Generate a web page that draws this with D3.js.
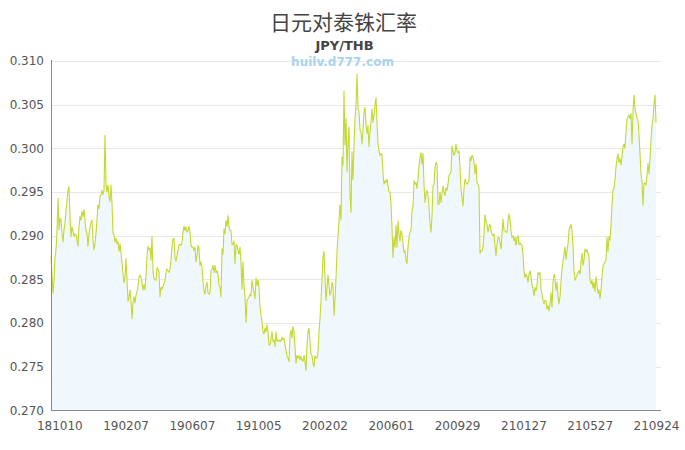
<!DOCTYPE html>
<html>
<head>
<meta charset="utf-8">
<script src="https://cdn.jsdelivr.net/npm/d3@7/dist/d3.min.js"></script>
<style>
  html, body { margin: 0; padding: 0; background: #fff; }
  svg { display: block; }
</style>
</head>
<body>
<svg id="chart" width="685" height="450"></svg>
<script>
// ---- data ----
const titleText = "日元对泰铢汇率";
const subtitleText = "JPY/THB";
const watermarkText = "huilv.d777.com";
const startDate = "180925";
const endDate = "210924";
const tickLabels = ["181010","190207","190607","191005","200202","200601","200929","210127","210527","210924"];
const yTicks = [0.270,0.275,0.280,0.285,0.290,0.295,0.300,0.305,0.310];
const rates = [
0.2876,0.2855,0.2834,0.2850,0.2875,0.2884,0.2905,0.2943,0.2907,0.2920,
0.2918,0.2903,0.2893,0.2907,0.2915,0.2928,0.2940,0.2952,0.2956,0.2922,
0.2899,0.2910,0.2905,0.2899,0.2902,0.2901,0.2895,0.2888,0.2910,0.2922,
0.2918,0.2928,0.2922,0.2930,0.2918,0.2905,0.2903,0.2888,0.2903,0.2910,
0.2915,0.2918,0.2895,0.2884,0.2891,0.2903,0.2918,0.2935,0.2931,0.2945,
0.2947,0.2952,0.2947,0.2952,0.3015,0.2960,0.2950,0.2958,0.2945,0.2939,
0.2958,0.2937,0.2903,0.2901,0.2893,0.2897,0.2891,0.2893,0.2882,0.2891,
0.2880,0.2869,0.2857,0.2846,0.2853,0.2874,0.2850,0.2825,0.2829,0.2838,
0.2825,0.2805,0.2823,0.2830,0.2823,0.2832,0.2836,0.2842,0.2853,0.2855,
0.2853,0.2846,0.2838,0.2844,0.2838,0.2855,0.2876,0.2888,0.2884,0.2886,
0.2872,0.2899,0.2859,0.2851,0.2850,
0.2849,0.2864,0.2862,0.2858,0.2830,0.2841,0.2839,0.2842,0.2845,0.2849,
0.2858,0.2862,0.2860,0.2858,0.2862,0.2873,0.2887,0.2896,0.2897,0.2875,
0.2871,0.2877,0.2883,0.2890,0.2890,0.2889,0.2892,0.2904,0.2911,0.2906,
0.2910,0.2904,0.2906,0.2911,0.2904,0.2889,0.2887,0.2887,0.2883,0.2887,
0.2870,0.2877,0.2889,0.2885,0.2866,0.2870,0.2864,0.2847,0.2837,0.2833,
0.2843,0.2847,0.2835,0.2833,0.2835,0.2860,0.2862,0.2866,0.2858,0.2866,
0.2858,0.2860,0.2856,0.2843,0.2841,0.2830,0.2885,0.2879,0.2908,0.2902,
0.2917,0.2911,0.2923,0.2910,0.2906,0.2906,0.2890,0.2890,0.2894,0.2868,
0.2890,0.2889,0.2883,0.2879,0.2887,0.2870,0.2839,0.2870,0.2843,0.2830,
0.2801,0.2826,0.2828,0.2830,0.2833,0.2831,0.2849,0.2841,0.2835,0.2828,
0.2852,0.2843,0.2849,0.2841,0.2818,
0.2809,0.2802,0.2790,0.2788,0.2794,0.2790,0.2798,0.2790,0.2775,0.2775,
0.2781,0.2790,0.2779,0.2781,0.2773,0.2790,0.2779,0.2781,0.2779,0.2781,
0.2779,0.2784,0.2781,0.2783,0.2775,0.2769,0.2762,0.2760,0.2756,0.2786,
0.2792,0.2783,0.2796,0.2790,0.2773,0.2754,0.2763,0.2760,0.2763,0.2758,
0.2762,0.2758,0.2756,0.2763,0.2756,0.2746,0.2775,0.2790,0.2794,0.2779,
0.2765,0.2763,0.2754,0.2750,0.2763,0.2760,0.2760,0.2767,0.2790,0.2805,
0.2826,0.2851,0.2876,0.2882,0.2851,0.2826,0.2840,0.2855,0.2843,0.2832,
0.2836,0.2847,0.2842,0.2809,0.2828,0.2851,0.2882,0.2899,0.2918,0.2935,
0.2918,0.2990,0.2981,0.3066,0.3004,0.3034,0.2973,0.3007,0.3024,0.2946,
0.2927,0.2996,0.2964,0.3004,0.3034,0.3049,0.3085,0.3045,0.3042,0.3021,
0.3019,0.3005,0.3021,0.3042,0.3047,0.3028,0.3017,0.3026,0.3002,0.3019,
0.3030,0.3045,0.3030,0.3038,0.3050,0.3058,0.3030,
0.3005,0.2997,0.2992,0.2994,0.2992,0.2971,0.2959,0.2963,0.2961,0.2965,
0.2957,0.2950,0.2950,0.2936,0.2910,0.2875,0.2898,0.2887,0.2912,0.2887,
0.2917,0.2902,0.2894,0.2906,0.2902,0.2891,0.2881,0.2883,0.2872,0.2868,
0.2887,0.2898,0.2904,0.2906,0.2929,0.2933,0.2963,0.2959,0.2961,0.2954,
0.2965,0.2980,0.2990,0.2995,0.2982,0.2994,0.2959,0.2938,0.2948,0.2952,
0.2946,0.2933,0.2914,0.2904,0.2923,0.2957,0.2959,0.2978,0.2984,0.2982,
0.2936,0.2936,0.2950,0.2938,0.2948,0.2957,0.2950,0.2946,0.2955,0.2952,
0.2959,0.2969,0.2971,0.2973,0.3003,0.2997,0.2992,0.2995,0.3005,0.2997,
0.2995,0.2997,0.2978,0.2954,0.2944,0.2934,0.2954,0.2965,0.2961,0.2959,
0.2961,0.2963,0.2990,0.2986,0.2992,0.2990,0.2984,0.2971,0.2982,0.2961,
0.2959,0.2955,0.2880,
0.2883,0.2883,0.2887,0.2902,0.2924,0.2917,0.2913,0.2904,0.2910,0.2913,
0.2906,0.2902,0.2900,0.2902,0.2889,0.2877,0.2890,0.2898,0.2898,0.2892,
0.2885,0.2902,0.2919,0.2906,0.2906,0.2904,0.2904,0.2917,0.2925,0.2919,
0.2906,0.2898,0.2900,0.2894,0.2898,0.2889,0.2898,0.2900,0.2890,0.2892,
0.2890,0.2889,0.2879,0.2858,0.2852,0.2856,0.2854,0.2847,0.2856,0.2860,
0.2854,0.2843,0.2839,0.2831,0.2841,0.2837,0.2843,0.2858,0.2856,0.2858,
0.2839,0.2833,0.2826,0.2822,0.2826,0.2826,0.2816,0.2820,0.2814,0.2822,
0.2835,0.2818,0.2847,0.2856,0.2852,0.2837,0.2847,0.2830,0.2822,0.2830,
0.2847,0.2862,0.2871,0.2879,0.2887,0.2873,0.2883,0.2890,0.2906,0.2910,
0.2913,0.2906,0.2887,0.2860,0.2849,0.2852,0.2855,0.2858,0.2860,0.2856,
0.2870,0.2880,0.2866,0.2872,0.2885,0.2882,0.2884,0.2880,0.2876,0.2849,
0.2845,0.2849,0.2840,0.2847,0.2836,0.2853,0.2844,0.2834,0.2838,0.2828,
0.2838,0.2853,0.2866,0.2868,0.2870,0.2872,0.2898,0.2882,0.2899,0.2895,
0.2912,0.2935,0.2952,0.2954,0.2964,0.2979,0.2988,0.2994,0.2984,0.2988,
0.2981,0.2990,0.3002,0.3005,0.3000,0.3019,0.3034,0.3036,0.3038,0.3034,
0.3040,0.3005,0.3042,0.3061,0.3045,0.3040,0.3034,0.3032,0.3015,0.2994,
0.2971,0.2962,0.2935,0.2960,0.2960,0.2958,0.2969,0.2983,0.2971,0.2988,
0.3009,0.3026,0.3034,0.3051,0.3061,0.3030
];

(function () {
  // ---- layout ----
  const W = 685;
  const mLeft = 51, mRight = 656, plotRight = 661, mTop = 61, mBottom = 410.5;
  const parse = d3.timeParse("%y%m%d");
  const fmt = d3.timeFormat("%y%m%d");

  const t0 = parse(startDate), t1 = parse(endDate);
  const idxToTime = d3.scaleLinear().domain([0, rates.length - 1]).range([+t0, +t1]);
  const data = rates.map((v, i) => ({ t: new Date(idxToTime(i)), v }));

  const x = d3.scaleTime().domain([t0, t1]).range([mLeft, mRight]);
  const y = d3.scaleLinear().domain([0.27, 0.31]).range([mBottom, mTop]);

  const svg = d3.select("#chart");
  const font = "'DejaVu Sans', sans-serif";

  // gridlines
  svg.append("g").selectAll("line")
    .data(yTicks.filter(d => d > 0.2701))
    .join("line")
    .attr("x1", mLeft).attr("x2", plotRight)
    .attr("y1", d => Math.round(y(d)) + 0.5).attr("y2", d => Math.round(y(d)) + 0.5)
    .attr("stroke", "#e8e8e8").attr("stroke-width", 1);

  // area
  svg.append("path")
    .datum(data)
    .attr("fill", "#f1f8fd")
    .attr("d", d3.area().x(d => x(d.t)).y0(y(0.27)).y1(d => y(d.v)));

  // line
  svg.append("path")
    .datum(data)
    .attr("fill", "none")
    .attr("stroke", "#c3d930")
    .attr("stroke-width", 1.1)
    .attr("stroke-linejoin", "round")
    .attr("d", d3.line().x(d => x(d.t)).y(d => y(d.v)));

  // y axis
  const yAxis = svg.append("g")
    .attr("transform", `translate(${mLeft},0)`)
    .call(d3.axisLeft(y).tickValues(yTicks).tickFormat(d3.format(".3f")).tickSize(0).tickPadding(7));
  yAxis.select(".domain").remove();
  yAxis.selectAll("text").attr("font-family", font).attr("font-size", 12).attr("fill", "#555");

  // x axis
  const xAxis = svg.append("g")
    .attr("transform", `translate(0,${mBottom})`)
    .call(d3.axisBottom(x).tickValues(tickLabels.map(parse)).tickFormat(fmt).tickSize(0).tickPadding(11));
  xAxis.select(".domain").remove();
  xAxis.selectAll("text").attr("font-family", font).attr("font-size", 12).attr("fill", "#555");

  // axis lines
  svg.append("line").attr("x1", mLeft + 0.5).attr("x2", mLeft + 0.5).attr("y1", mTop - 1).attr("y2", mBottom)
    .attr("stroke", "#888").attr("stroke-width", 1);
  svg.append("line").attr("x1", mLeft).attr("x2", plotRight).attr("y1", mBottom).attr("y2", mBottom)
    .attr("stroke", "#888").attr("stroke-width", 1);

  // titles
  svg.append("text").attr("x", W / 2 + 1).attr("y", 30).attr("text-anchor", "middle")
    .attr("font-family", "'Noto Sans CJK SC', sans-serif").attr("font-size", 21).attr("fill", "#444")
    .text(titleText);
  svg.append("text").attr("x", W / 2 + 2).attr("y", 50).attr("text-anchor", "middle")
    .attr("font-family", font).attr("font-size", 13).attr("font-weight", "bold").attr("fill", "#444")
    .text(subtitleText);
  svg.append("text").attr("x", W / 2).attr("y", 66).attr("text-anchor", "middle")
    .attr("font-family", font).attr("font-size", 12).attr("font-weight", "bold").attr("fill", "#a9d4ee")
    .text(watermarkText);
})();
</script>
</body>
</html>
